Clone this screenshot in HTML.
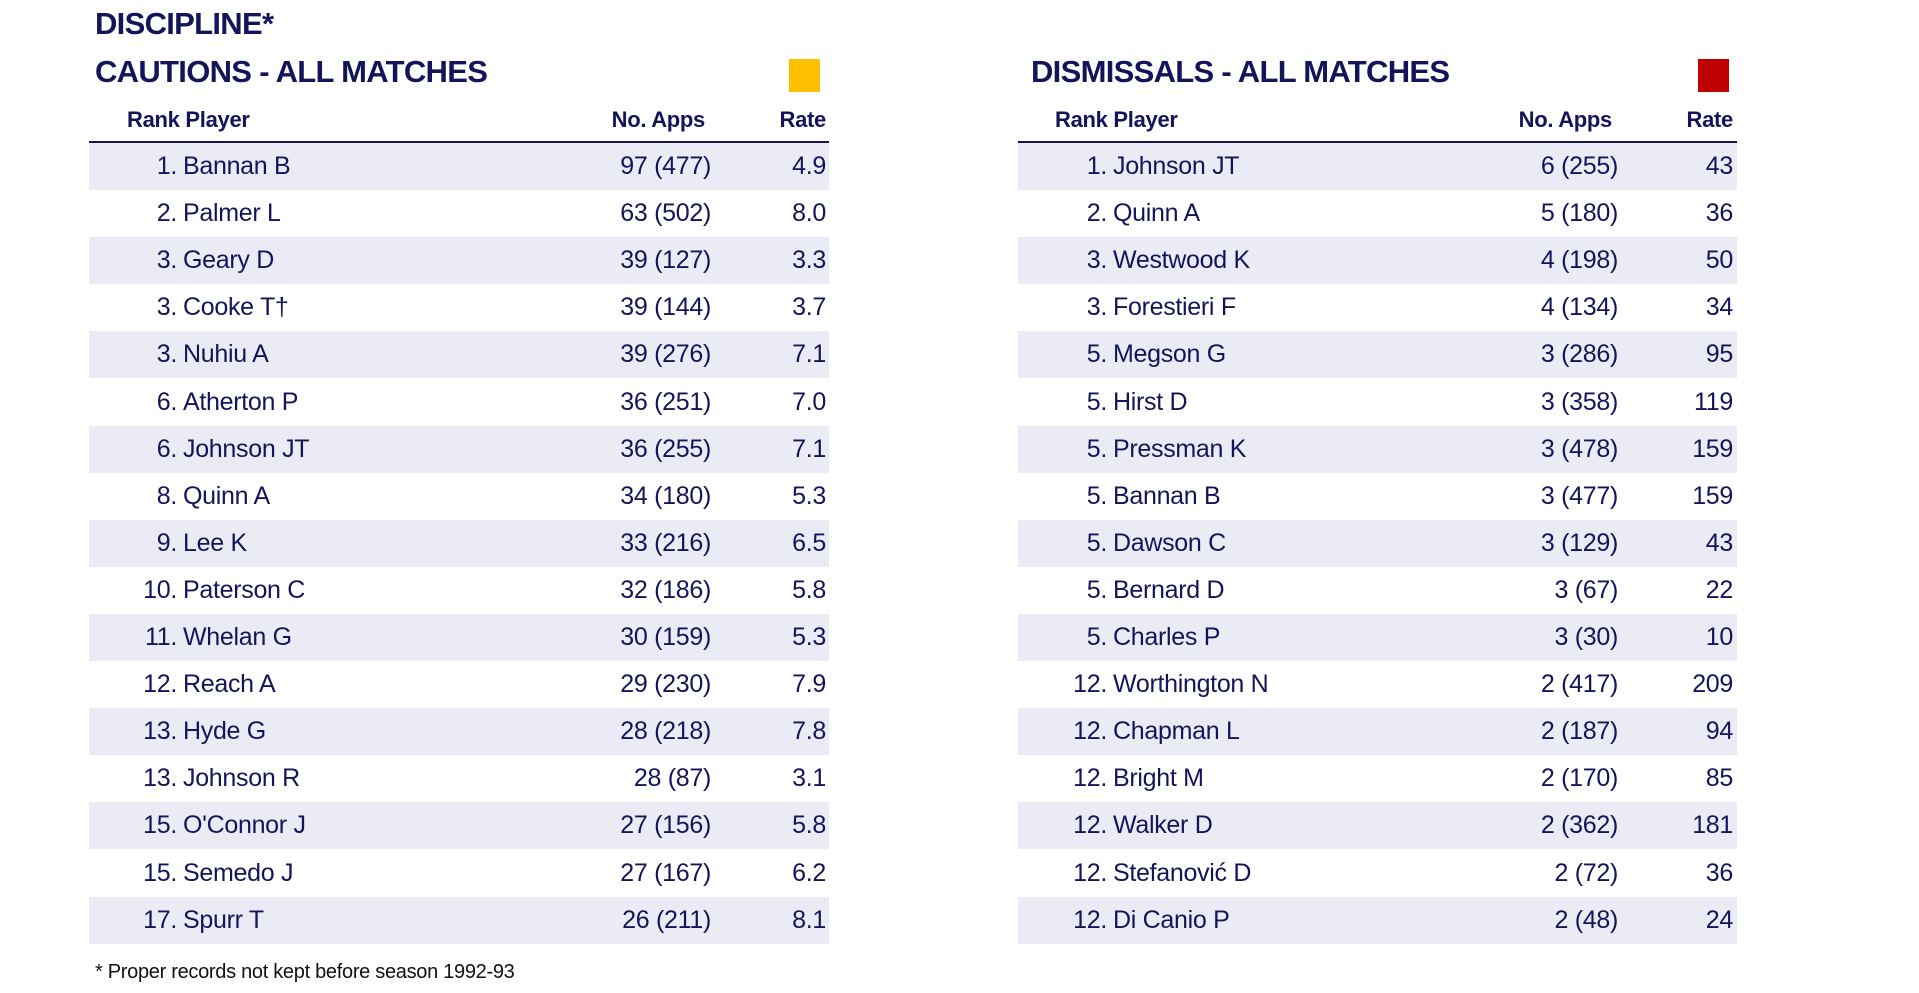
<!DOCTYPE html>
<html><head><meta charset="utf-8"><style>
*{margin:0;padding:0;box-sizing:border-box}
body{width:1919px;height:993px;background:#fff;position:relative;overflow:hidden;font-family:"Liberation Sans Narrow","Liberation Sans",sans-serif;color:#14145a}
.t{position:absolute;font-weight:bold;font-size:31px;letter-spacing:-0.7px;white-space:nowrap}
.sq{position:absolute;width:31px;height:33px}
.h{position:absolute;font-weight:bold;font-size:22px;white-space:nowrap;letter-spacing:-0.3px}
.line{position:absolute;height:2px;background:#14145a}
.row{position:absolute;height:47.1px;font-size:25px;line-height:47.1px;white-space:nowrap;letter-spacing:-0.3px}
.row span{position:absolute}
.band{background:#ebebf5}
.foot{position:absolute;left:95px;top:961px;font-size:20px;color:#111;letter-spacing:-0.3px}
</style></head><body>
<div class="t" style="left:95px;top:6px">DISCIPLINE*</div>
<div class="t" style="left:95px;top:54px">CAUTIONS - ALL MATCHES</div>
<div class="t" style="left:1031px;top:54px">DISMISSALS - ALL MATCHES</div>
<div class="sq" style="left:789px;top:59px;background:#ffc000"></div>
<div class="sq" style="left:1698px;top:59px;background:#c00000"></div>
<div id="L"></div><div id="R"></div>
<div class="foot">* Proper records not kept before season 1992-93</div>
<script>
function build(id,x0,x1,cols,data){
 var h='<div class="h" style="left:'+cols.rank+'px;top:107px">Rank Player</div>'+
 '<div class="h" style="right:'+(1919-cols.appsH)+'px;top:107px">No. Apps</div>'+
 '<div class="h" style="right:'+(1919-cols.rate)+'px;top:107px">Rate</div>'+
 '<div class="line" style="left:'+x0+'px;width:'+(x1-x0)+'px;top:141px"></div>';
 data.forEach(function(d,i){
  var top=143+i*47.1;
  h+='<div class="row'+(i%2==0?' band':'')+'" style="left:'+x0+'px;width:'+(x1-x0)+'px;top:'+top+'px">'+
  '<span style="right:'+(x1-cols.rr)+'px">'+d[0]+'.</span>'+
  '<span style="left:'+(cols.pl-x0)+'px">'+d[1]+'</span>'+
  '<span style="right:'+(x1-cols.apps)+'px">'+d[2]+'</span>'+
  '<span style="right:'+(x1-cols.rate)+'px">'+d[3]+'</span></div>';
 });
 document.getElementById(id).innerHTML=h;
}
build('L',89,829,{rank:127,appsH:705,rate:826,rr:177,pl:183,apps:711},[
[1,'Bannan B','97 (477)','4.9'],[2,'Palmer L','63 (502)','8.0'],[3,'Geary D','39 (127)','3.3'],[3,'Cooke T†','39 (144)','3.7'],
[3,'Nuhiu A','39 (276)','7.1'],[6,'Atherton P','36 (251)','7.0'],[6,'Johnson JT','36 (255)','7.1'],[8,'Quinn A','34 (180)','5.3'],
[9,'Lee K','33 (216)','6.5'],[10,'Paterson C','32 (186)','5.8'],[11,'Whelan G','30 (159)','5.3'],[12,'Reach A','29 (230)','7.9'],
[13,'Hyde G','28 (218)','7.8'],[13,'Johnson R','28 (87)','3.1'],[15,"O'Connor J",'27 (156)','5.8'],[15,'Semedo J','27 (167)','6.2'],[17,'Spurr T','26 (211)','8.1']]);
build('R',1018,1737,{rank:1055,appsH:1612,rate:1733,rr:1107,pl:1113,apps:1618},[
[1,'Johnson JT','6 (255)','43'],[2,'Quinn A','5 (180)','36'],[3,'Westwood K','4 (198)','50'],[3,'Forestieri F','4 (134)','34'],
[5,'Megson G','3 (286)','95'],[5,'Hirst D','3 (358)','119'],[5,'Pressman K','3 (478)','159'],[5,'Bannan B','3 (477)','159'],
[5,'Dawson C','3 (129)','43'],[5,'Bernard D','3 (67)','22'],[5,'Charles P','3 (30)','10'],[12,'Worthington N','2 (417)','209'],
[12,'Chapman L','2 (187)','94'],[12,'Bright M','2 (170)','85'],[12,'Walker D','2 (362)','181'],[12,'Stefanović D','2 (72)','36'],[12,'Di Canio P','2 (48)','24']]);
</script>
</body></html>
